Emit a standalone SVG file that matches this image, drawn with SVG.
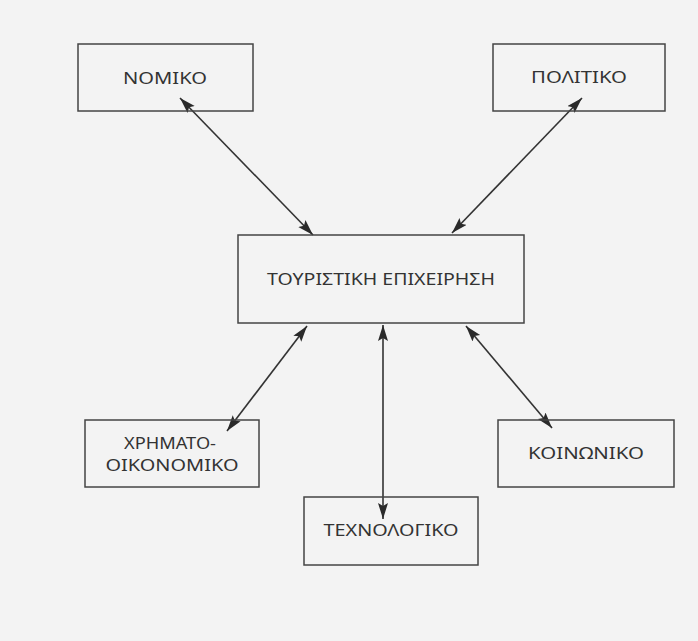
<svg xmlns="http://www.w3.org/2000/svg" width="698" height="641" viewBox="0 0 698 641">
<style>
.box{fill:none;stroke:#444;stroke-width:1.5}
.lbl{font-family:"Noto Sans","Liberation Sans",sans-serif;font-size:17px;fill:#333;text-anchor:middle}
.con{stroke:#333;stroke-width:1.6;fill:none;marker-start:url(#ah);marker-end:url(#ah)}
</style>
<defs>
<marker id="ah" markerUnits="userSpaceOnUse" markerWidth="17" markerHeight="11" refX="16" refY="5" orient="auto-start-reverse">
<path d="M0,0 L16,5 L0,10 L3,5 Z" fill="#2a2a2a"/>
</marker>
</defs>
<rect width="698" height="641" fill="#f3f3f3"/>
<g id="connectors">
<line class="con" x1="180" y1="98" x2="313" y2="235"/>
<line class="con" x1="582" y1="98" x2="452" y2="233"/>
<line class="con" x1="307" y1="326" x2="227" y2="431"/>
<line class="con" x1="383" y1="325" x2="383" y2="519"/>
<line class="con" x1="466" y1="326" x2="552" y2="428"/>
</g>
<g id="nomiko">
<rect class="box" x="78" y="44" width="175" height="67"/>
<text class="lbl" x="165" y="84" textLength="84" lengthAdjust="spacingAndGlyphs">ΝΟΜΙΚΟ</text>
</g>
<g id="politiko">
<rect class="box" x="493" y="44" width="172" height="67"/>
<text class="lbl" x="579" y="83" textLength="96" lengthAdjust="spacingAndGlyphs">ΠΟΛΙΤΙΚΟ</text>
</g>
<g id="touristiki">
<rect class="box" x="238" y="235" width="286" height="88"/>
<text class="lbl" x="381" y="285" textLength="228" lengthAdjust="spacingAndGlyphs">ΤΟΥΡΙΣΤΙΚΗ ΕΠΙΧΕΙΡΗΣΗ</text>
</g>
<g id="chrimato">
<rect class="box" x="85" y="420" width="174" height="67"/>
<text class="lbl" x="170" y="449" textLength="92" lengthAdjust="spacingAndGlyphs">ΧΡΗΜΑΤΟ-</text>
<text class="lbl" x="172" y="471" textLength="133" lengthAdjust="spacingAndGlyphs">ΟΙΚΟΝΟΜΙΚΟ</text>
</g>
<g id="koinoniko">
<rect class="box" x="498" y="420" width="176" height="67"/>
<text class="lbl" x="586" y="459" textLength="116" lengthAdjust="spacingAndGlyphs">ΚΟΙΝΩΝΙΚΟ</text>
</g>
<g id="technologiko">
<rect class="box" x="304" y="497" width="174" height="68"/>
<text class="lbl" x="391" y="536" textLength="135" lengthAdjust="spacingAndGlyphs">ΤΕΧΝΟΛΟΓΙΚΟ</text>
</g>
</svg>
